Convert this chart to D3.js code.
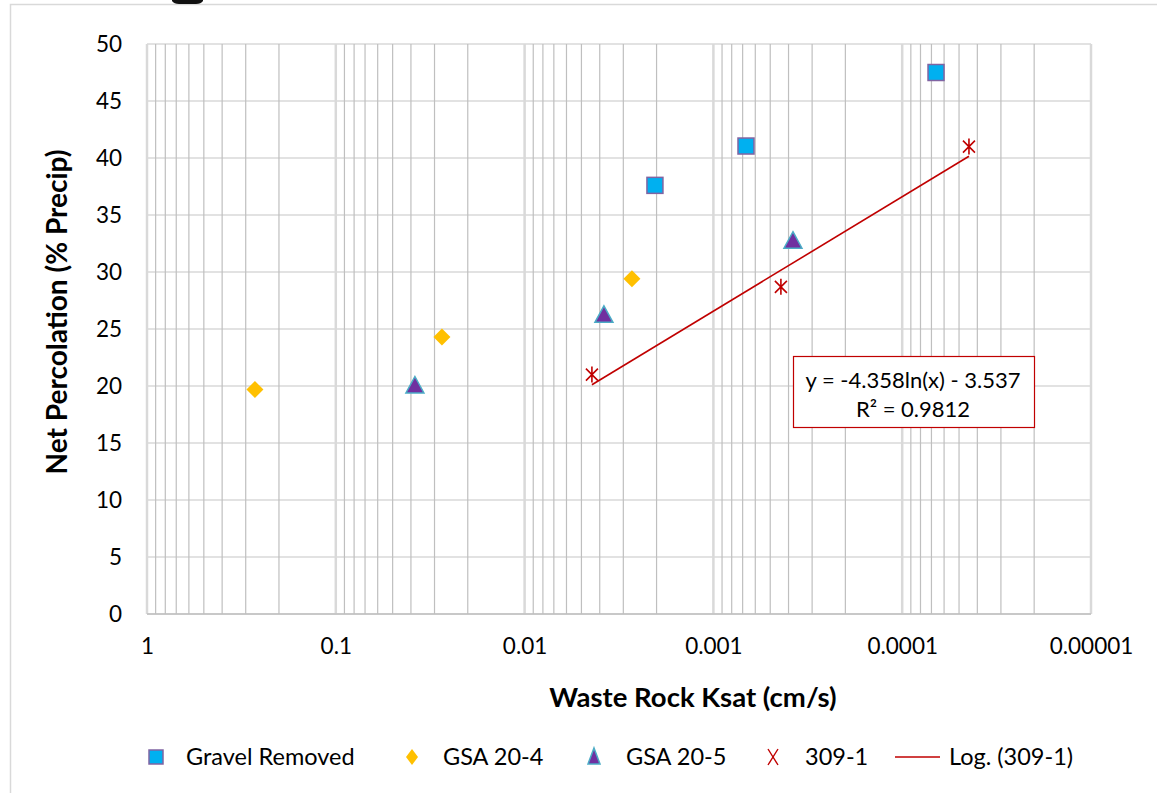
<!DOCTYPE html>
<html>
<head>
<meta charset="utf-8">
<script src="https://cdn.jsdelivr.net/npm/d3@7"></script>
<style>
  html, body { margin: 0; padding: 0; background: #fff; }
  svg { display: block; font-family: Lato, "Open Sans", sans-serif; }
</style>
</head>
<body>
<svg id="chart" width="1157" height="793"></svg>
<script>
// ---- data ----
const gravelKsat = [0.00204, 0.000672, 0.0000662];
const gravelPerc = [37.6, 41.05, 47.5];
const gsa204Ksat = [0.268, 0.0274, 0.0027];
const gsa204Perc = [19.7, 24.3, 29.4];
const gsa205Ksat = [0.0381, 0.0038, 0.000379];
const gsa205Perc = [20.0, 26.2, 32.7];
const s3091Ksat = [0.0044, 0.000439, 0.0000443];
const s3091Perc = [21.0, 28.7, 41.0];
const trendA = -4.358, trendB = -3.537, trendR2 = 0.9812;
const xTickValues = [1, 0.1, 0.01, 0.001, 0.0001, 0.00001];
const xTickLabels = ["1", "0.1", "0.01", "0.001", "0.0001", "0.00001"];
const yTickValues = [0, 5, 10, 15, 20, 25, 30, 35, 40, 45, 50];
const legendLabels = ["Gravel Removed", "GSA 20-4", "GSA 20-5", "309-1", "Log. (309-1)"];

const svg = d3.select("#chart");
const L = 147, R = 1091, T = 44, B = 614;
const x = d3.scaleLog().domain([1, 0.00001]).range([L, R]);
const y = d3.scaleLinear().domain([0, 50]).range([B, T]);

// outer chart border
svg.append("rect").attr("x", 10.5).attr("y", 4.5).attr("width", 1200).attr("height", 900)
  .attr("fill", "none").attr("stroke", "#d9d9d9").attr("stroke-width", 1.5);
// cropped black artifact at top
svg.append("path").attr("d", "M172,0 L203,0 L203,1 Q201,4 196,4 L179,4 Q174,4 172,1 Z").attr("fill", "#111");

// gridlines
const g = svg.append("g");
const allTicks = x.ticks();
const isMajor = v => Math.abs(Math.log10(v) - Math.round(Math.log10(v))) < 1e-9;
g.selectAll("line.hy").data(yTickValues).join("line")
  .attr("x1", L).attr("x2", R).attr("y1", d => y(d)).attr("y2", d => y(d))
  .attr("stroke", "#d9d9d9").attr("stroke-width", 1.5);
g.selectAll("line.minor").data(allTicks.filter(v => !isMajor(v))).join("line")
  .attr("x1", d => x(d)).attr("x2", d => x(d)).attr("y1", T).attr("y2", B)
  .attr("stroke", "#bfbfbf").attr("stroke-width", 1.2);
g.selectAll("line.major").data(xTickValues).join("line")
  .attr("x1", d => x(d)).attr("x2", d => x(d)).attr("y1", T).attr("y2", B)
  .attr("stroke", "#d9d9d9").attr("stroke-width", 2.5);
// bottom axis line
svg.append("line").attr("x1", L).attr("x2", R).attr("y1", B).attr("y2", B)
  .attr("stroke", "#bfbfbf").attr("stroke-width", 1.5);

// axes labels via d3 axes
const xAxis = d3.axisBottom(x).tickValues(xTickValues)
  .tickFormat((d, i) => xTickLabels[i]).tickSize(0).tickPadding(24);
const xa = svg.append("g").attr("transform", `translate(0,${B})`).call(xAxis);
xa.select(".domain").remove();
xa.selectAll("text").attr("font-size", 22.5).attr("fill", "#000").attr("font-family", "Lato");

const yAxis = d3.axisLeft(y).tickValues(yTickValues).tickSize(0).tickPadding(25);
const ya = svg.append("g").attr("transform", `translate(${L},0)`).call(yAxis);
ya.select(".domain").remove();
ya.selectAll("text").attr("font-size", 22.5).attr("fill", "#000").attr("font-family", "Lato");

// axis titles
svg.append("text").attr("x", 693).attr("y", 707).attr("text-anchor", "middle")
  .attr("font-size", 27.5).attr("font-weight", "bold").text("Waste Rock Ksat (cm/s)");
svg.append("text").attr("transform", "translate(67,312) rotate(-90)").attr("text-anchor", "middle")
  .attr("font-size", 28).attr("font-weight", "bold").text("Net Percolation (% Precip)");

// marker shapes
const sym = {
  square: (sel) => sel.append("rect").attr("x", -8).attr("y", -8).attr("width", 16).attr("height", 16)
    .attr("fill", "#00b0f0").attr("stroke", "#8064a2").attr("stroke-width", 1.5),
  diamond: (sel) => sel.append("path").attr("d", "M0,-8.5 L8.5,0 L0,8.5 L-8.5,0 Z").attr("fill", "#ffc000"),
  triangle: (sel) => sel.append("path").attr("d", "M0,-9.5 L9,7 L-9,7 Z")
    .attr("fill", "#7030a0").attr("stroke", "#4bacc6").attr("stroke-width", 1.5),
  star: (sel, vertical = true) => {
    sel.append("path").attr("d", "M-6,-6 L6,6 M6,-6 L-6,6" + (vertical ? " M0,-8 L0,8" : ""))
      .attr("stroke", "#c00000").attr("stroke-width", 1.6).attr("fill", "none");
  }
};

function drawSeries(xs, ys, shape) {
  const pts = xs.map((v, i) => [v, ys[i]]);
  svg.append("g").selectAll("g").data(pts).join("g")
    .attr("transform", d => `translate(${x(d[0])},${y(d[1])})`)
    .each(function () { sym[shape](d3.select(this)); });
}

// trendline (logarithmic fit of 309-1, drawn across the series' x range)
const tx = d3.extent(s3091Ksat);
const trendPts = tx.map(v => [v, trendA * Math.log(v) + trendB]);
svg.append("path").datum(trendPts)
  .attr("d", d3.line().x(d => x(d[0])).y(d => y(d[1])))
  .attr("stroke", "#c00000").attr("stroke-width", 1.6).attr("fill", "none");

drawSeries(gravelKsat, gravelPerc, "square");
drawSeries(gsa204Ksat, gsa204Perc, "diamond");
drawSeries(gsa205Ksat, gsa205Perc, "triangle");
drawSeries(s3091Ksat, s3091Perc, "star");

// equation box
const eq = svg.append("g");
eq.append("rect").attr("x", 793.5).attr("y", 356.5).attr("width", 241).attr("height", 71)
  .attr("fill", "#fff").attr("stroke", "#c00000").attr("stroke-width", 1.2);
eq.append("text").attr("x", 913).attr("y", 388).attr("text-anchor", "middle").attr("font-size", 22)
  .text(`y = ${trendA}ln(x) - ${Math.abs(trendB)}`);
eq.append("text").attr("x", 913).attr("y", 417).attr("text-anchor", "middle").attr("font-size", 22)
  .text(`R² = ${trendR2}`);

// legend
const lg = svg.append("g").attr("transform", "translate(0,757)");
const legendItems = [
  { shape: "square", mx: 156, tx: 186 },
  { shape: "diamond", mx: 412, tx: 443 },
  { shape: "triangle", mx: 594, tx: 626 },
  { shape: "star", mx: 773, tx: 805 },
  { shape: "line", mx: 917, tx: 949 }
];
legendItems.forEach((it, i) => {
  const gi = lg.append("g").attr("transform", `translate(${it.mx},0)`);
  if (it.shape === "line") {
    gi.append("line").attr("x1", -22).attr("x2", 23).attr("y1", 0).attr("y2", 0)
      .attr("stroke", "#c00000").attr("stroke-width", 1.6);
  } else if (it.shape === "square") {
    gi.append("rect").attr("x", -7).attr("y", -7).attr("width", 14).attr("height", 14)
      .attr("fill", "#00b0f0").attr("stroke", "#8064a2").attr("stroke-width", 1.5);
  } else if (it.shape === "diamond") {
    gi.append("path").attr("d", "M0,-8 L6,0 L0,8 L-6,0 Z").attr("fill", "#ffc000");
  } else if (it.shape === "triangle") {
    gi.append("path").attr("d", "M0,-9 L6,7 L-6,7 Z").attr("fill", "#7030a0")
      .attr("stroke", "#4bacc6").attr("stroke-width", 1.5);
  } else {
    gi.append("path").attr("d", "M-5,-8 L5,8 M5,-8 L-5,8").attr("stroke", "#c00000")
      .attr("stroke-width", 1.4).attr("fill", "none");
  }
  lg.append("text").attr("x", it.tx).attr("y", 8).attr("font-size", 23.5).text(legendLabels[i]);
});
</script>
</body>
</html>
